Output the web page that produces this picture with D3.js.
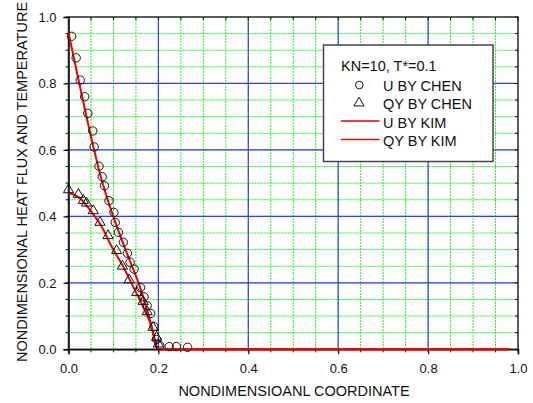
<!DOCTYPE html>
<html><head><meta charset="utf-8">
<script src="https://cdn.jsdelivr.net/npm/d3@7"></script>
<style>body{margin:0;background:#fff}svg{display:block}text{font-family:"Liberation Sans",Arial,sans-serif;fill:#111}</style>
</head><body><svg id="c" width="533" height="403"></svg>
<script>
const uChenX = [0.007,0.017,0.026,0.036,0.043,0.054,0.057,0.068,0.075,0.080,0.090,0.101,0.104,0.111,0.122,0.131,0.137,0.146,0.160,0.168,0.175,0.183,0.190,0.196,0.203,0.224,0.240,0.265];
const uChenY = [0.942,0.877,0.810,0.760,0.710,0.657,0.609,0.551,0.519,0.492,0.447,0.412,0.382,0.352,0.322,0.289,0.262,0.241,0.186,0.158,0.131,0.108,0.068,0.030,0.011,0.008,0.008,0.006];
const qyChenX = [0.000,0.022,0.033,0.040,0.055,0.070,0.088,0.107,0.120,0.135,0.152,0.166,0.175,0.188,0.196,0.200];
const qyChenY = [0.480,0.466,0.448,0.440,0.417,0.382,0.342,0.297,0.250,0.209,0.171,0.144,0.113,0.066,0.036,0.016];
const uKimX = [0.000,0.024,0.057,0.074,0.0996,0.133,0.159,0.181,0.200,0.981];
const uKimY = [0.953,0.800,0.600,0.509,0.400,0.278,0.188,0.088,0.000,0.000];
const qyKimX = [0.000,0.026,0.048,0.074,0.096,0.122,0.144,0.166,0.185,0.200,0.981];
const qyKimY = [0.471,0.454,0.419,0.369,0.309,0.248,0.188,0.128,0.068,0.000,0.000];
const xTicks = [0.0,0.2,0.4,0.6,0.8,1.0];
const yTicks = [0.0,0.2,0.4,0.6,0.8,1.0];
const legendItems = ["U BY CHEN","QY BY CHEN","U BY KIM","QY BY KIM"];

const svg = d3.select("#c");
const L=68.5,R=518,T=17,B=349.3;
const x = d3.scaleLinear().domain([0,1]).range([L,R]);
const y = d3.scaleLinear().domain([0,1]).range([B,T]);
const minor = d3.range(0,1.0001,0.05);
const g = svg.append("g");
minor.forEach(v=>{
  g.append("line").attr("x1",x(v)).attr("x2",x(v)).attr("y1",T).attr("y2",B).attr("stroke","#22ee22").attr("stroke-width",1).attr("stroke-dasharray","2,1");
  g.append("line").attr("y1",y(v)).attr("y2",y(v)).attr("x1",L).attr("x2",R).attr("stroke","#22ee22").attr("stroke-width",1).attr("stroke-dasharray","2,1");
});
[0.2,0.4,0.6,0.8].forEach(v=>{
  g.append("line").attr("x1",x(v)).attr("x2",x(v)).attr("y1",T).attr("y2",B).attr("stroke","#3a3aff").attr("stroke-width",1.2);
  g.append("line").attr("y1",y(v)).attr("y2",y(v)).attr("x1",L).attr("x2",R).attr("stroke","#3a3aff").attr("stroke-width",1.2);
});
g.append("rect").attr("x",L).attr("y",T).attr("width",R-L).attr("height",B-T).attr("fill","none").attr("stroke","#333").attr("stroke-width",1.5);
const fmt = d3.format(".1f");
const xa = svg.append("g").attr("transform",`translate(0,${B})`).call(d3.axisBottom(x).tickValues(xTicks).tickFormat(fmt).tickSize(5).tickPadding(9));
const ya = svg.append("g").attr("transform",`translate(${L},0)`).call(d3.axisLeft(y).tickValues(yTicks).tickFormat(fmt).tickSize(5).tickPadding(7));
[xa,ya].forEach(a=>{a.select(".domain").attr("stroke","#111").attr("stroke-width",1.5);a.selectAll("line").attr("stroke","#111").attr("stroke-width",1.2);a.selectAll("text").style("font-size","13px").style("font-family","'Liberation Sans',Arial,sans-serif").attr("fill","#222");});
minor.forEach(v=>{
  svg.append("line").attr("x1",x(v)).attr("x2",x(v)).attr("y1",B).attr("y2",B+3).attr("stroke","#111");
  svg.append("line").attr("y1",y(v)).attr("y2",y(v)).attr("x1",L).attr("x2",L-3).attr("stroke","#111");
  svg.append("line").attr("x1",x(v)).attr("x2",x(v)).attr("y1",T).attr("y2",T+3).attr("stroke","#111");
  svg.append("line").attr("y1",y(v)).attr("y2",y(v)).attr("x1",R).attr("x2",R-3).attr("stroke","#111");
});
const line = d3.line().x(d=>x(d[0])).y(d=>y(d[1])).curve(d3.curveMonotoneX);
svg.append("path").datum(uKimX.map((v,i)=>[v,uKimY[i]])).attr("d",line).attr("fill","none").attr("stroke","#ee0000").attr("stroke-width",2);
svg.append("path").datum(qyKimX.map((v,i)=>[v,qyKimY[i]])).attr("d",line).attr("fill","none").attr("stroke","#ee0000").attr("stroke-width",2);
svg.append("g").selectAll("circle").data(uChenX.map((v,i)=>[v,uChenY[i]])).join("circle")
  .attr("cx",d=>x(d[0])).attr("cy",d=>y(d[1])).attr("r",4.2).attr("fill","none").attr("stroke","#111").attr("stroke-width",1);
const tri = d3.symbol().type(d3.symbolTriangle).size(45);
svg.append("g").selectAll("path").data(qyChenX.map((v,i)=>[v,qyChenY[i]])).join("path")
  .attr("d",tri).attr("transform",d=>`translate(${x(d[0])},${y(d[1])})`).attr("fill","none").attr("stroke","#111").attr("stroke-width",1);
const lg = svg.append("g");
lg.append("rect").attr("x",323.5).attr("y",45).attr("width",169.5).attr("height",116.5).attr("fill","#fff").attr("stroke","#444").attr("stroke-width",1.5);
lg.append("text").attr("x",341).attr("y",71).style("font-size","14.5px").text("KN=10, T*=0.1");
const rows=[90.5,109,127.5,146];
legendItems.forEach((t,i)=>{
  lg.append("text").attr("x",383).attr("y",rows[i]).style("font-size","14.5px").text(t);
});
lg.append("circle").attr("cx",359.3).attr("cy",85).attr("r",3.8).attr("fill","none").attr("stroke","#111");
lg.append("path").attr("d",tri).attr("transform","translate(359,103)").attr("fill","none").attr("stroke","#111");
[121,139.5].forEach(yy=>lg.append("line").attr("x1",341).attr("x2",379.5).attr("y1",yy).attr("y2",yy).attr("stroke","#ee0000").attr("stroke-width",1.5));
svg.append("text").attr("x",294).attr("y",396).attr("text-anchor","middle").style("font-size","14.5px").text("NONDIMENSIOANL COORDINATE");
svg.append("text").attr("transform","translate(27,182) rotate(-90)").attr("text-anchor","middle").style("font-size","14.5px").text("NONDIMENSIONAL HEAT FLUX AND TEMPERATURE");
</script></body></html>
